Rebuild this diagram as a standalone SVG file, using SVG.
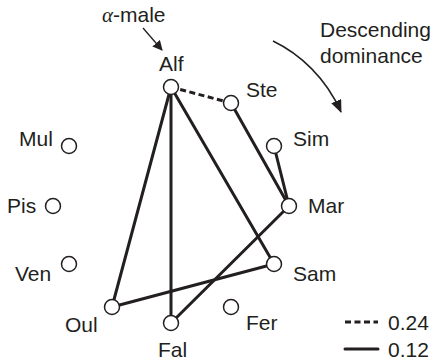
<svg xmlns="http://www.w3.org/2000/svg" width="431" height="363" viewBox="0 0 431 363">
<style>
text{font-family:"Liberation Sans",Arial,sans-serif;font-size:21px;fill:#231f20}
.e{stroke:#231f20;stroke-width:3;fill:none;stroke-linecap:round}
.d{stroke-dasharray:6 3.5;stroke-linecap:butt}
.n{fill:#fff;stroke:#231f20;stroke-width:1.5}
</style>
<defs>
<marker id="ah" viewBox="0 0 10 10" refX="9" refY="5" markerWidth="10" markerHeight="10" markerUnits="userSpaceOnUse" orient="auto">
<path d="M0,0 L10,5 L0,10 z" fill="#231f20"/>
</marker>
<marker id="ah2" viewBox="0 0 12 10" refX="11" refY="5" markerWidth="13" markerHeight="11" markerUnits="userSpaceOnUse" orient="auto">
<path d="M0,0 L12,5 L0,10 z" fill="#231f20"/>
</marker>
</defs>
<g id="connectors">
<line class="e d" x1="171" y1="87" x2="231" y2="103"/>
<line class="e" x1="231" y1="103" x2="289" y2="206"/>
<line class="e" x1="274" y1="146" x2="289" y2="206"/>
<line class="e" x1="171" y1="87" x2="112" y2="307"/>
<line class="e" x1="171" y1="87" x2="171" y2="323"/>
<line class="e" x1="171" y1="87" x2="274" y2="264"/>
<line class="e" x1="112" y1="307" x2="274" y2="264"/>
<line class="e" x1="171" y1="323" x2="289" y2="206"/>
</g>
<g id="Alf"><circle class="n" cx="171" cy="87" r="7.5"/><text x="159" y="71">Alf</text></g>
<g id="Ste"><circle class="n" cx="231" cy="103" r="7.5"/><text x="246" y="97">Ste</text></g>
<g id="Sim"><circle class="n" cx="274" cy="146" r="7.5"/><text x="293" y="146">Sim</text></g>
<g id="Mar"><circle class="n" cx="289" cy="206" r="7.5"/><text x="308" y="213">Mar</text></g>
<g id="Sam"><circle class="n" cx="274" cy="264" r="7.5"/><text x="293" y="281">Sam</text></g>
<g id="Fer"><circle class="n" cx="231" cy="307" r="7.5"/><text x="246" y="330">Fer</text></g>
<g id="Fal"><circle class="n" cx="171" cy="323" r="7.5"/><text x="158" y="357">Fal</text></g>
<g id="Oul"><circle class="n" cx="112" cy="307" r="7.5"/><text x="65" y="332">Oul</text></g>
<g id="Ven"><circle class="n" cx="69" cy="264" r="7.5"/><text x="15" y="281">Ven</text></g>
<g id="Pis"><circle class="n" cx="53" cy="206" r="7.5"/><text x="7" y="213">Pis</text></g>
<g id="Mul"><circle class="n" cx="69" cy="146" r="7.5"/><text x="19" y="146">Mul</text></g>
<g id="alpha-label">
<text x="102" y="22"><tspan font-family="'Liberation Serif',serif" font-style="italic">α</tspan>-male</text>
<line x1="143" y1="28" x2="162" y2="50" stroke="#231f20" stroke-width="1.3" marker-end="url(#ah)"/>
</g>
<g id="dominance">
<text x="320" y="37">Descending</text>
<text x="320" y="63">dominance</text>
<path d="M273,41 C300,54 326,78 341,112" fill="none" stroke="#231f20" stroke-width="1.5" marker-end="url(#ah2)"/>
</g>
<g id="legend">
<line class="e d" x1="345" y1="322" x2="378" y2="322" stroke-width="2.5"/>
<text x="388" y="330">0.24</text>
<line class="e" x1="345" y1="349" x2="378" y2="349" stroke-linecap="butt"/>
<text x="388" y="357">0.12</text>
</g>
</svg>
